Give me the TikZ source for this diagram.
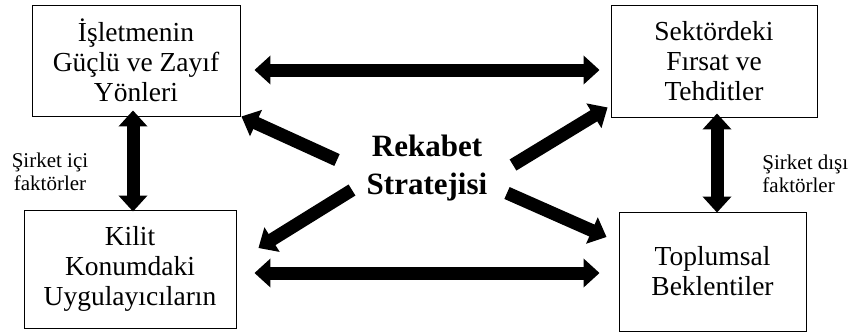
\documentclass[tikz,border=0pt]{standalone}
\usepackage{fontspec}
\setmainfont{Liberation Serif}
\usepackage{tikz}
\usetikzlibrary{arrows.meta,positioning}
\tikzset{
  every picture/.style={line width=0.9pt},
  bx/.style={draw=black,fill=white,align=center,inner sep=0pt,font=\fontsize{27.5}{30}\selectfont},
  fat/.style={draw=black,line width=13pt,-{Triangle[length=16pt,width=28pt]}},
  fatd/.style={draw=black,line width=13pt,{Triangle[length=16pt,width=28pt]}-{Triangle[length=16pt,width=28pt]}},
  lab/.style={inner sep=0pt,font=\fontsize{21}{23.5}\selectfont},
  ttl/.style={align=center,inner sep=0pt,font=\bfseries\fontsize{31}{38}\selectfont},
}
\begin{document}
\begin{tikzpicture}[x=1pt,y=-1pt]
  \useasboundingbox (0,0) rectangle (848,333);
  \node[bx,minimum width=208pt,minimum height=111pt] (guc) at (136,60.5) {İşletmenin\\Güçlü ve Zayıf\\Yönleri};
  \node[bx,minimum width=206pt,minimum height=112pt] (firsat) at (714,61) {Sektördeki\\Fırsat ve\\Tehditler};
  \node[bx,minimum width=212pt,minimum height=118pt] (kilit) at (130,269) {Kilit\\Konumdaki\\Uygulayıcıların};
  \node[bx,minimum width=187pt,minimum height=119pt] (toplum) at (712.5,271.5) {Toplumsal\\Beklentiler};
  \node[ttl] (rs) at (427,168) {Rekabet\\Stratejisi};
  \node[lab,align=center] (ici) at (50,172) {Şirket içi\\faktörler};
  \node[lab,align=left,anchor=west] (disi) at (762,174) {Şirket dışı\\faktörler};
  \draw[fatd] ([shift={(14,9.5)}]guc.east) -- ([shift={(-11,9)}]firsat.west);
  \draw[fatd] ([shift={(18,4)}]kilit.east) -- ([shift={(-19,1.5)}]toplum.west);
  \draw[fatd] ([shift={(-3,-6)}]guc.south) -- ([shift={(3,2)}]kilit.north);
  \draw[fatd] ([shift={(3,-4)}]firsat.south) -- ([shift={(4.5,1)}]toplum.north);
  \draw[fat] ([shift={(-90,-8)}]rs.center) -- ([shift={(1,0)}]guc.south east);
  \draw[fat] ([shift={(86,-3)}]rs.center) -- ([shift={(-3,-10)}]firsat.south west);
  \draw[fat] ([shift={(-75,22)}]rs.center) -- ([shift={(22,-21)}]kilit.east);
  \draw[fat] ([shift={(80,25)}]rs.center) -- ([shift={(-12,-34.5)}]toplum.west);
\end{tikzpicture}
\end{document}
